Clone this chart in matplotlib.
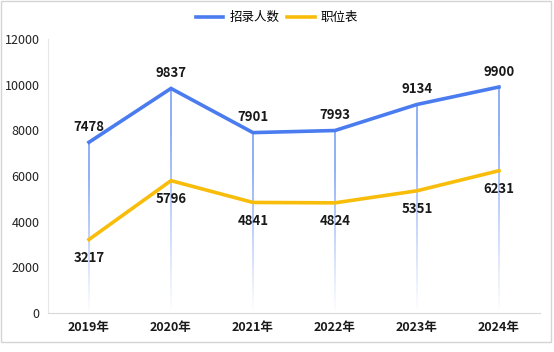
import numpy as np
import matplotlib
matplotlib.use("Agg")
import matplotlib.pyplot as plt
from matplotlib.patches import Rectangle

plt.rcParams['font.family'] = ['Noto Sans CJK SC', 'DejaVu Sans']

# 数据
years = ['2019年', '2020年', '2021年', '2022年', '2023年', '2024年']
recruits = [7478, 9837, 7901, 7993, 9134, 9900]
positions = [3217, 5796, 4841, 4824, 5351, 6231]

blue = '#4a7cf0'
yellow = '#f8bd0b'

fig = plt.figure(figsize=(5.54, 3.52), dpi=100)
ax = fig.add_axes([0.0866, 0.111, 0.888, 0.778])

x = np.arange(len(years))

# 渐变的竖线（从蓝色点到底部），用细长的渐变图像实现
n = 200
alpha = np.clip(np.linspace(1.25, 0.0, n), 0, 1) * 0.6
grad = np.zeros((n, 1, 4))
grad[:, 0, :3] = (0.29, 0.49, 0.94)
grad[:, 0, 3] = alpha
half_w = 0.0065
for xi, yi in zip(x, recruits):
    ax.imshow(grad, extent=(xi - half_w, xi + half_w, 0, yi), origin='upper',
              aspect='auto', interpolation='bilinear', zorder=1)

ax.plot(x, recruits, color=blue, lw=2.6, label='招录人数', zorder=3, solid_joinstyle='miter')
ax.plot(x, positions, color=yellow, lw=2.6, label='职位表', zorder=3, solid_joinstyle='miter')

for xi, v in zip(x, recruits):
    ax.annotate(str(v), (xi, v), xytext=(0, 6), textcoords='offset points',
                ha='center', va='bottom', fontsize=9.5, fontweight='bold', color='#1a1a1a')
for xi, v in zip(x, positions):
    ax.annotate(str(v), (xi, v), xytext=(0, -8), textcoords='offset points',
                ha='center', va='top', fontsize=9.5, fontweight='bold', color='#1a1a1a')

ax.set_xlim(-0.5, 5.5)
ax.set_ylim(0, 12000)
ax.set_aspect('auto')
ax.set_yticks(range(0, 12001, 2000))
ax.set_xticks(x)
ax.set_xticklabels(years, fontweight='bold', fontsize=9)
ax.tick_params(axis='y', length=0, labelsize=9, colors='#222222', pad=6)
ax.tick_params(axis='x', length=0, pad=6, colors='#1a1a1a')

for s in ['top', 'right']:
    ax.spines[s].set_visible(False)
ax.spines['left'].set_color('#e6e6e6')
ax.spines['bottom'].set_color('#d9d9d9')

leg = fig.legend(loc='upper center', bbox_to_anchor=(0.5, 1.0), ncol=2, frameon=False,
                 fontsize=9, handlelength=2.2, columnspacing=0.6, handletextpad=0.5)

# 外框（底部与右侧留白）
fig.patches.append(Rectangle((0.001, 10 / 352), 550 / 554, 341 / 352,
                             transform=fig.transFigure, fill=False,
                             edgecolor='#d4d4d4', lw=1.0))

fig.savefig('out.png', dpi=100)
